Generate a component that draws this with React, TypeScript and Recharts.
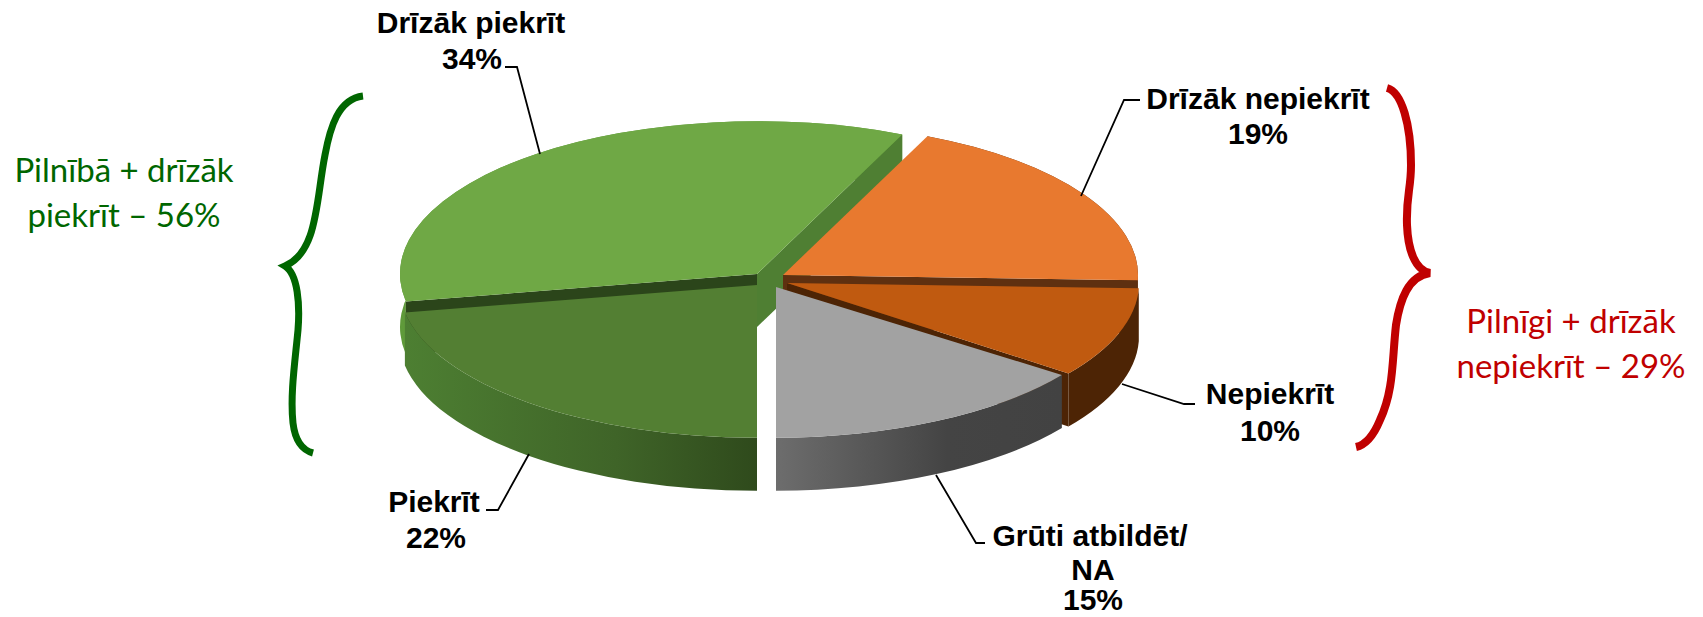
import { PieChart, Pie } from "recharts";

const categories = ["Drīzāk piekrīt", "Drīzāk nepiekrīt", "Nepiekrīt", "Grūti atbildēt/ NA", "Piekrīt"];
const shares = [34, 19, 10, 15, 22];
const labelLines = [["Drīzāk piekrīt"], ["Drīzāk nepiekrīt"], ["Nepiekrīt"], ["Grūti atbildēt/", "NA"], ["Piekrīt"]];

const chartData = categories.map((name, i) => ({ name, value: shares[i] }));

const CX = 770;
const CY = 280;
const RADIUS = 352;
const SQUASH = 0.428; // tilt of the pie
const DEPTH = 53;

// how each slice is drawn: explode offset, radius tweak, edge nudges for the perspective (degrees)
const looks = [
  { dx: -13, dy: -6, grow: 5, nudge: [-0.5, 1.5], top: "#6fa845", cutA: "#2b451a", cutB: "#4f7f33", wall: ["#5f9a3a", "#5f9a3a", "#5f9a3a"] },
  { dx: 13, dy: -5, grow: 3, nudge: [1.5, 1.1], top: "#e8792f", cutA: null, cutB: "#5f3010", wall: ["#5f3010", "#5f3010", "#5f3010"] },
  { dx: 17, dy: 3, grow: 0, nudge: [1.1, 0], top: "#c05a10", cutA: null, cutB: "#4d2405", wall: ["#4d2405", "#4d2405", "#4d2405"] },
  { dx: 6, dy: 7, grow: 0, nudge: [-1.2, -0.9], top: "#a2a2a2", cutA: null, cutB: null, wall: ["#6d6d6d", "#444444", "#424242"] },
  { dx: -13, dy: 5, grow: 6, nudge: [-0.9, -0.5], top: "#537f33", cutA: null, cutB: null, wall: ["#4d7f32", "#3f6428", "#2f4a1c"] },
];

// line centres and baselines, value position and leader polyline for each slice
const labelSpots = [
  { xs: [471], ys: [33], valueX: 472, valueY: 69, leader: "505,67 517,67 540,154" },
  { xs: [1258], ys: [109], valueX: 1258, valueY: 144, leader: "1140,100 1124,100 1081,196" },
  { xs: [1270], ys: [404], valueX: 1270, valueY: 441, leader: "1195,404 1184,404 1122,384" },
  { xs: [1090, 1093], ys: [546, 580], valueX: 1093, valueY: 610, leader: "985,543 976,543 936,475" },
  { xs: [434], ys: [512], valueX: 436, valueY: 548, leader: "486,510 498,510 529,454" },
];

const indexOf = (props: any) => categories.indexOf(props.payload?.name ?? props.name);

function Slice3D(props: any) {
  const i = indexOf(props);
  const look = looks[i];
  const rx = props.outerRadius + look.grow;
  const ry = (props.outerRadius + Math.min(look.grow, 5)) * SQUASH;
  const ax = props.cx + look.dx;
  const ay = props.cy + look.dy;
  // Recharts hands over math angles, the pie runs clockwise
  const a0 = 90 - props.startAngle + look.nudge[0];
  const a1 = 90 - props.endAngle + look.nudge[1];
  const at = (deg: number, drop = 0) => {
    const t = (deg * Math.PI) / 180;
    return `${ax + rx * Math.sin(t)} ${ay - ry * Math.cos(t) + drop}`;
  };
  const large = a1 - a0 > 180 ? 1 : 0;
  const gradId = `wall-${i}`;
  return (
    <g>
      <defs>
        <linearGradient id={gradId} x1="0" y1="0" x2="1" y2="0">
          <stop offset="0" stopColor={look.wall[0]} />
          <stop offset="0.6" stopColor={look.wall[1]} />
          <stop offset="1" stopColor={look.wall[2]} />
        </linearGradient>
      </defs>
      <path
        d={`M${at(a0)} A${rx} ${ry} 0 ${large} 1 ${at(a1)} L${at(a1, DEPTH)} A${rx} ${ry} 0 ${large} 0 ${at(a0, DEPTH)} Z`}
        fill={`url(#${gradId})`}
      />
      {look.cutA && <path d={`M${ax} ${ay} L${at(a0)} L${at(a0, DEPTH)} L${ax} ${ay + DEPTH} Z`} fill={look.cutA} />}
      {look.cutB && <path d={`M${ax} ${ay} L${at(a1)} L${at(a1, DEPTH)} L${ax} ${ay + DEPTH} Z`} fill={look.cutB} />}
      <path d={`M${ax} ${ay} L${at(a0)} A${rx} ${ry} 0 ${large} 1 ${at(a1)} Z`} fill={look.top} />
    </g>
  );
}

function SliceLabel(props: any) {
  const i = indexOf(props);
  const spot = labelSpots[i];
  const textStyle = { fontFamily: "'Liberation Sans', Arial, sans-serif", fontWeight: 700, fontSize: 30, fill: "#000" };
  return (
    <g>
      <polyline points={spot.leader} fill="none" stroke="#000" strokeWidth={1.8} />
      {labelLines[i].map((line, k) => (
        <text key={k} x={spot.xs[k]} y={spot.ys[k]} textAnchor="middle" style={textStyle}>
          {line}
        </text>
      ))}
      <text x={spot.valueX} y={spot.valueY} textAnchor="middle" style={textStyle}>
        {`${props.value}%`}
      </text>
    </g>
  );
}

export default function App() {
  const sideFont = { fontFamily: "Lato, sans-serif", fontSize: 33 };
  return (
    <div style={{ position: "absolute", left: 0, top: 0, width: 1703, height: 617, background: "#fff" }}>
      <PieChart width={1703} height={617} margin={{ top: 0, right: 0, bottom: 0, left: 0 }}>
        <Pie
          data={chartData}
          dataKey="value"
          nameKey="name"
          cx={CX}
          cy={CY}
          innerRadius={0}
          outerRadius={RADIUS}
          startAngle={-170.1}
          endAngle={-530.1}
          paddingAngle={0}
          stroke="none"
          shape={Slice3D}
          label={SliceLabel}
          labelLine={false}
          isAnimationActive={false}
        />
      </PieChart>
      <svg width={1703} height={617} style={{ position: "absolute", left: 0, top: 0, pointerEvents: "none" }}>
        <path
          d="M363 96 C338 99 330 128 325 155 C316 200 318 252 285 266 C298 274 300 305 298 330 C295 362 290 395 293 423 C295 440 302 450 313 453"
          fill="none"
          stroke="#006600"
          strokeWidth={7}
        />
        <path
          d="M1387 88 C1402 92 1411 125 1411 165 C1411 190 1406 195 1407 225 C1408 250 1415 270 1430 273 C1408 276 1400 300 1396 325 C1392 360 1394 390 1380 420 C1373 437 1365 445 1356 447"
          fill="none"
          stroke="#c00000"
          strokeWidth={8}
        />
        <text x={124} y={182} textAnchor="middle" fill="#006600" style={sideFont}>Pilnībā + drīzāk</text>
        <text x={124} y={227} textAnchor="middle" fill="#006600" style={sideFont}>piekrīt – 56%</text>
        <text x={1571} y={333} textAnchor="middle" fill="#c00000" style={sideFont}>Pilnīgi + drīzāk</text>
        <text x={1571} y={378} textAnchor="middle" fill="#c00000" style={sideFont}>nepiekrīt – 29%</text>
      </svg>
    </div>
  );
}
